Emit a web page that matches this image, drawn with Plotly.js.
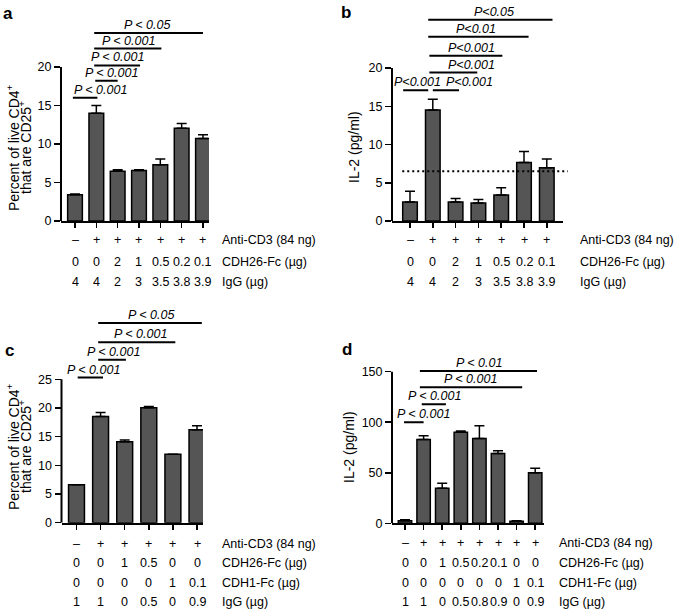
<!DOCTYPE html>
<html>
<head>
<meta charset="utf-8">
<script src="https://cdn.plot.ly/plotly-3.0.1.min.js"></script>
<style>body{margin:0;background:#fff}</style>
</head>
<body>
<div id="plot" style="width:678px;height:611px"></div>
<script>
// panel a - CD25+ cells
var aMean = [3.4, 14.0, 6.45, 6.55, 7.3, 12.05, 10.7];
var aErr = [0.1, 1.0, 0.2, 0.1, 0.75, 0.6, 0.5];
var aRowNames = ["Anti-CD3 (84 ng)", "CDH26-Fc (µg)", "IgG (µg)"];
var aRows = [
  ["–", "+", "+", "+", "+", "+", "+"],
  ["0", "0", "2", "1", "0.5", "0.2", "0.1"],
  ["4", "4", "2", "3", "3.5", "3.8", "3.9"]
];
// [from, to, height, label]
var aSig = [
  [-0.1, 1.05, 16.0, "P < 0.001"],
  [0.95, 2.0, 18.2, "P < 0.001"],
  [0.9, 3.05, 20.2, "P < 0.001"],
  [0.9, 4.05, 22.4, "P < 0.001"],
  [0.9, 6.0, 24.4, "P < 0.05"]
];
var aSigLabelAt = [1.19, 1.7, 2.0, 2.5, 3.36];

// panel b - IL-2
var bMean = [2.5, 14.5, 2.5, 2.35, 3.4, 7.65, 6.95];
var bErr = [1.4, 1.4, 0.45, 0.45, 0.95, 1.45, 1.15];
var bThreshold = 6.5;
var bRowNames = aRowNames;
var bRows = aRows;
var bSig = [
  [-0.3, 0.8, 17.1, "P<0.001"],
  [1.0, 2.15, 17.1, "P<0.001"],
  [0.85, 2.95, 19.4, "P<0.001"],
  [0.85, 4.05, 21.6, "P<0.001"],
  [0.8, 5.2, 24.1, "P<0.01"],
  [0.8, 6.25, 26.3, "P<0.05"]
];
var bSigLabelAt = [0.35, 2.6, 2.68, 2.68, 2.9, 3.7];

// panel c - CD25+ cells, CDH1-Fc control
var cMean = [6.6, 18.5, 14.1, 20.05, 11.95, 16.2];
var cErr = [0, 0.7, 0.3, 0.2, 0, 0.7];
var cRowNames = ["Anti-CD3 (84 ng)", "CDH26-Fc (µg)", "CDH1-Fc (µg)", "IgG (µg)"];
var cRows = [
  ["–", "+", "+", "+", "+", "+"],
  ["0", "0", "1", "0.5", "0", "0"],
  ["0", "0", "0", "0", "1", "0.1"],
  ["1", "1", "0", "0.5", "0", "0.9"]
];
var cSig = [
  [0.05, 1.1, 25.3, "P < 0.001"],
  [0.9, 2.05, 28.4, "P < 0.001"],
  [0.9, 4.1, 31.45, "P < 0.001"],
  [0.9, 5.2, 34.8, "P < 0.05"]
];
var cSigLabelAt = [0.72, 1.52, 2.64, 3.1];

// panel d - IL-2, CDH1-Fc control
var dMean = [2.6, 83, 34.6, 90, 84, 69, 2, 50.1];
var dErr = [1.0, 3.7, 5.0, 1.3, 12.6, 2.9, 0.6, 4.3];
var dRowNames = cRowNames;
var dRows = [
  ["–", "+", "+", "+", "+", "+", "+", "+"],
  ["0", "0", "1", "0.5", "0.2", "0.1", "0", "0"],
  ["0", "0", "0", "0", "0", "0", "1", "0.1"],
  ["1", "1", "0", "0.5", "0.8", "0.9", "0", "0.9"]
];
var dSig = [
  [-0.05, 1.0, 100, "P < 0.001"],
  [0.9, 2.2, 117.7, "P < 0.001"],
  [0.8, 6.3, 134.5, "P < 0.001"],
  [0.8, 7.1, 150.7, "P < 0.01"]
];
var dSigLabelAt = [0.99, 1.56, 3.5, 3.97];

var W = 678, H = 611;
var FONT = "Liberation Sans, Arial, sans-serif";
var FS = 12.5;
function fx(p) { return p / W; }
function fy(p) { return 1 - p / H; }

var panels = [
  {letter: "a", at: [8, 2], mean: aMean, err: aErr, rows: aRows, names: aRowNames, sig: aSig, labelAt: aSigLabelAt,
   left: 61, right: 209, first: 75, step: 21.33, bottom: 221, tickTop: 20, tickTopPx: 67, top: 25.5,
   ticks: [0, 5, 10, 15, 20], barW: 0.69, rowY: [240, 262, 282], rowX: 220,
   titles: ["Percent of live CD4<sup>+</sup>", "that are CD25<sup>+</sup>"], titleX: [13, 25], titleY: 148},
  {letter: "b", at: [346, 1], mean: bMean, err: bErr, rows: bRows, names: bRowNames, sig: bSig, labelAt: bSigLabelAt,
   left: 392, right: 562.7, first: 410, step: 22.8, bottom: 221, tickTop: 20, tickTopPx: 68, top: 27,
   ticks: [0, 5, 10, 15, 20], barW: 0.64, rowY: [240, 262, 282], rowX: 578,
   titles: ["IL-2 (pg/ml)"], titleX: [354], titleY: 147},
  {letter: "c", at: [9, 339], mean: cMean, err: cErr, rows: cRows, names: cRowNames, sig: cSig, labelAt: cSigLabelAt,
   left: 61.5, right: 203, first: 76.5, step: 24.1, bottom: 522.7, tickTop: 25, tickTopPx: 379.3, top: 35.6,
   ticks: [0, 5, 10, 15, 20, 25], barW: 0.66, rowY: [544, 563, 583, 602], rowX: 220,
   titles: ["Percent of live CD4<sup>+</sup>", "that are CD25<sup>+</sup>"], titleX: [13, 25], titleY: 447},
  {letter: "d", at: [347, 338], mean: dMean, err: dErr, rows: dRows, names: dRowNames, sig: dSig, labelAt: dSigLabelAt,
   left: 392, right: 544, first: 405, step: 18.6, bottom: 523.3, tickTop: 150, tickTopPx: 371.7, top: 153,
   ticks: [0, 50, 100, 150], barW: 0.72, rowY: [543, 563, 583, 602], rowX: 557,
   titles: ["IL-2 (pg/ml)"], titleX: [349], titleY: 447}
];

var data = [];
var layout = {
  width: W, height: H,
  margin: {l: 0, r: 0, t: 0, b: 0},
  paper_bgcolor: "#fff", plot_bgcolor: "rgba(0,0,0,0)",
  showlegend: false,
  font: {family: FONT, size: FS, color: "#000"},
  shapes: [], annotations: []
};

panels.forEach(function (p, k) {
  var n = k === 0 ? "" : String(k + 1);
  var xa = "x" + n, ya = "y" + n;
  var cats = p.mean.map(function (v, i) { return i; });
  var scale = (p.bottom - p.tickTopPx) / p.tickTop;
  var topPx = p.bottom - p.top * scale;

  data.push({
    type: "bar", x: cats, y: p.mean, xaxis: xa, yaxis: ya, width: p.barW,
    marker: {color: "#555555", line: {color: "#000", width: 1.5}},
    error_y: {type: "data", array: p.err, arrayminus: p.err.map(function () { return 0; }),
      symmetric: false, color: "#000", thickness: 1.5, width: 5},
    hoverinfo: "skip"
  });

  layout["xaxis" + n] = {
    domain: [fx(p.left), fx(p.right)], anchor: ya,
    range: [(p.left - p.first) / p.step, (p.right - p.first) / p.step],
    showgrid: false, zeroline: false, showline: true, linewidth: 2, linecolor: "#000",
    tickmode: "array", tickvals: cats, showticklabels: false,
    ticks: "outside", ticklen: 5, tickwidth: 1.5, tickcolor: "#000", fixedrange: true
  };
  layout["yaxis" + n] = {
    domain: [fy(p.bottom), fy(topPx)], anchor: xa, range: [0, p.top],
    showgrid: false, zeroline: false, showline: false,
    tickmode: "array", tickvals: p.ticks, ticks: "outside", ticklen: 6, tickwidth: 1.5,
    tickcolor: "#000", tickfont: {size: FS}, fixedrange: true
  };

  // y axis line only up to the top tick
  layout.shapes.push({type: "line", xref: "paper", yref: ya, x0: fx(p.left), x1: fx(p.left),
    y0: 0, y1: p.tickTop, line: {color: "#000", width: 2}});

  // significance lines
  p.sig.forEach(function (s, i) {
    layout.shapes.push({type: "line", xref: xa, yref: ya, x0: s[0], x1: s[1], y0: s[2], y1: s[2],
      line: {color: "#000", width: 2}});
    layout.annotations.push({xref: xa, yref: ya, x: p.labelAt[i], y: s[2], yshift: 8,
      text: "<i>" + s[3] + "</i>", showarrow: false, xanchor: "center", yanchor: "middle",
      font: {size: FS}});
  });

  // treatment table under the bars
  p.rows.forEach(function (row, r) {
    row.forEach(function (t, i) {
      layout.annotations.push({xref: xa, yref: "paper", x: i, y: fy(p.rowY[r]), text: t,
        showarrow: false, xanchor: "center", yanchor: "middle", font: {size: FS}});
    });
    layout.annotations.push({xref: "paper", yref: "paper", x: fx(p.rowX), y: fy(p.rowY[r]),
      text: p.names[r], showarrow: false, xanchor: "left", yanchor: "middle", font: {size: FS}});
  });

  p.titles.forEach(function (t, i) {
    layout.annotations.push({xref: "paper", yref: "paper", x: fx(p.titleX[i]), y: fy(p.titleY),
      text: t, textangle: -90, showarrow: false, xanchor: "center", yanchor: "middle",
      font: {size: 14}});
  });

  layout.annotations.push({xref: "paper", yref: "paper", x: fx(p.at[0]), y: fy(p.at[1]),
    text: "<b>" + p.letter + "</b>", showarrow: false, xanchor: "center", yanchor: "top",
    font: {size: 17}});
});

// panel b detection limit
layout.shapes.push({type: "line", xref: "x2 domain", yref: "y2", x0: 0.06, x1: 1.03,
  y0: bThreshold, y1: bThreshold, line: {color: "#000", width: 2, dash: "2px,3px"}});

Plotly.newPlot("plot", data, layout, {displayModeBar: false, staticPlot: true});
</script>
</body>
</html>
